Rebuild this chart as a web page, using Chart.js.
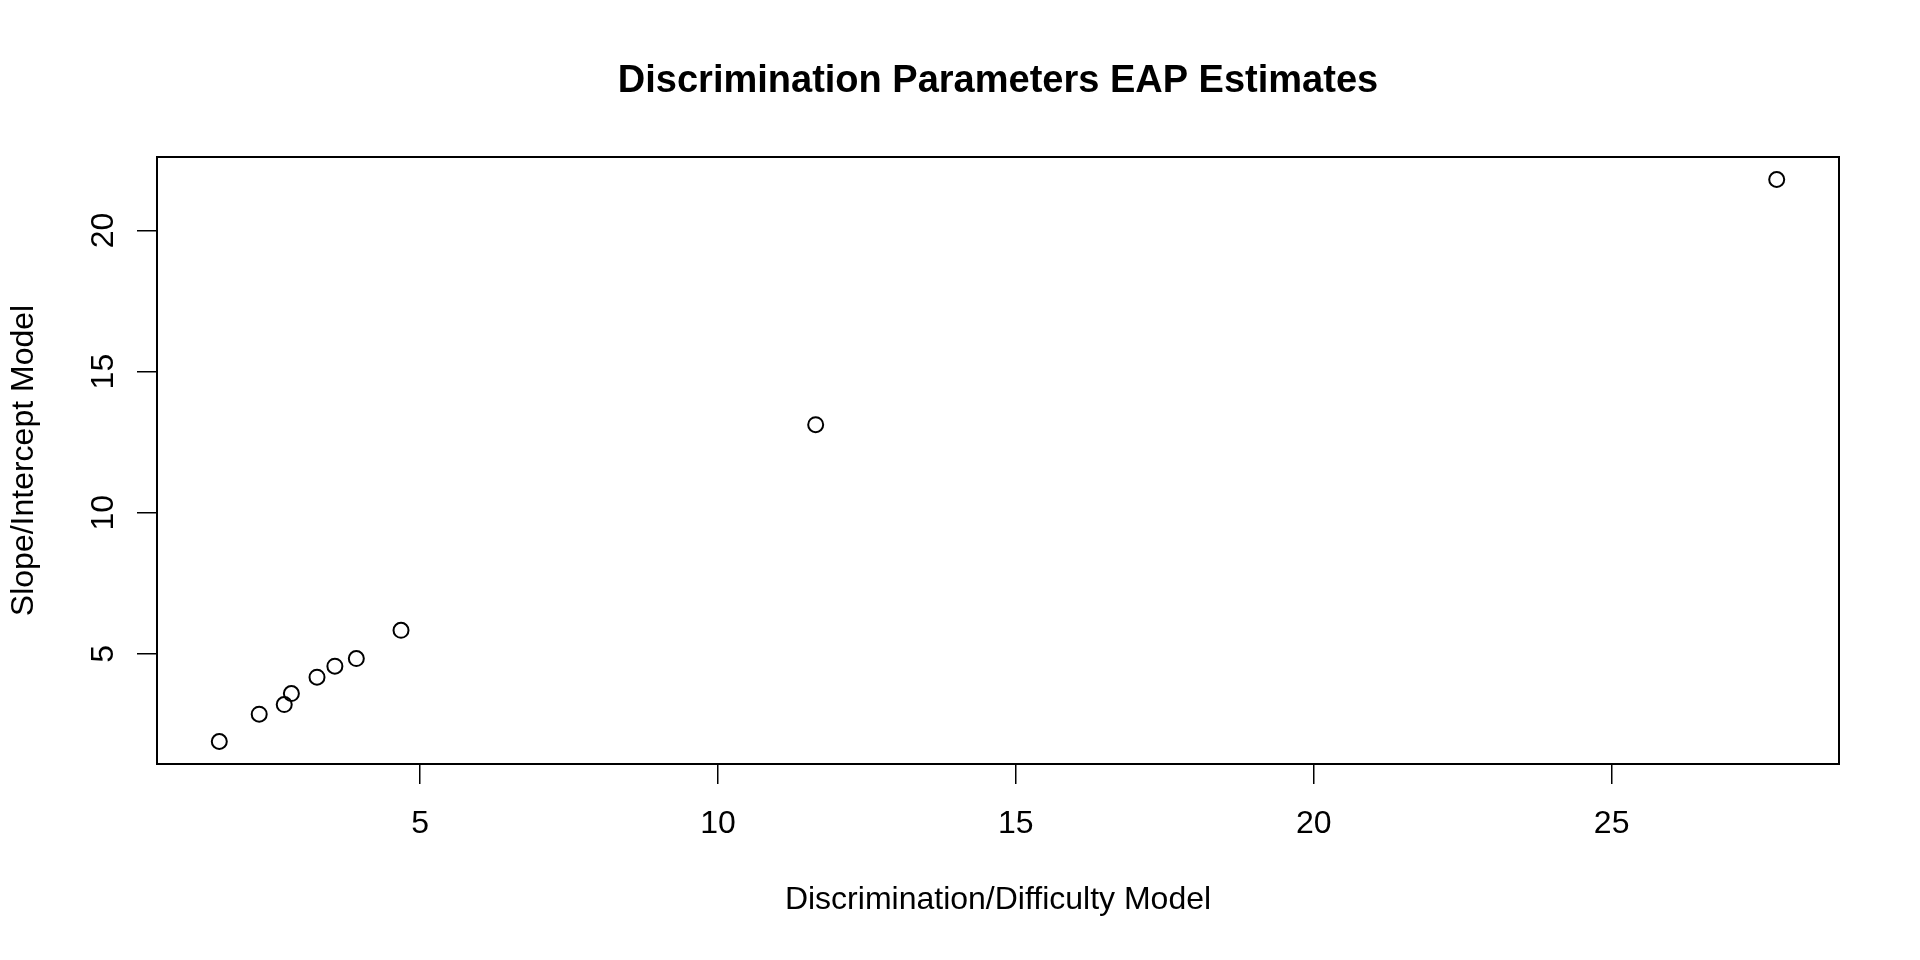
<!DOCTYPE html>
<html>
<head>
<meta charset="utf-8">
<title>Discrimination Parameters EAP Estimates</title>
<script src="https://cdn.jsdelivr.net/npm/chart.js@4/dist/chart.umd.min.js"></script>
<style>
  html, body { margin: 0; padding: 0; background: #fff; }
  #wrap { width: 1920px; height: 960px; }
</style>
</head>
<body>
<div id="wrap"><canvas id="grafico" width="1920" height="960"></canvas></div>
<script>
// valores
const discDiff = [1.63, 2.30, 2.72, 2.84, 3.27, 3.57, 3.93, 4.68, 11.64, 27.77];
const slopeInt = [1.89, 2.86, 3.20, 3.59, 4.17, 4.56, 4.83, 5.83, 13.12, 21.81];
const xTicks = [5, 10, 15, 20, 25];
const yTicks = [5, 10, 15, 20];

const fonte = 'Liberation Sans, Arial, Helvetica, sans-serif';

// limites como no R (4% de folga)
function limites(v) {
  const lo = Math.min(...v), hi = Math.max(...v);
  const pad = (hi - lo) * 0.04;
  return { min: lo - pad, max: hi + pad };
}
const xLim = limites(discDiff);
const yLim = limites(slopeInt);

// caixa, título e rótulos do eixo y (rotacionados)
const extras = {
  id: 'extras',
  afterDraw(chart) {
    const { ctx, chartArea: a } = chart;
    ctx.save();
    ctx.strokeStyle = '#000';
    ctx.lineWidth = 2;
    ctx.strokeRect(a.left, a.top, a.right - a.left, a.bottom - a.top);

    ctx.fillStyle = '#000';
    ctx.textAlign = 'center';
    ctx.textBaseline = 'middle';
    ctx.font = 'bold 38px ' + fonte;
    ctx.fillText('Discrimination Parameters EAP Estimates', (a.left + a.right) / 2, 82);

    const y = chart.scales.y;
    ctx.font = '32px ' + fonte;
    yTicks.forEach(v => {
      ctx.save();
      ctx.translate(104, y.getPixelForValue(v));
      ctx.rotate(-Math.PI / 2);
      ctx.fillText(String(v), 0, 0);
      ctx.restore();
    });
    ctx.restore();
  }
};

const ctx = document.getElementById('grafico').getContext('2d');
new Chart(ctx, {
  type: 'scatter',
  data: {
    datasets: [{
      label: 'EAP',
      data: discDiff.map((x, i) => ({ x: x, y: slopeInt[i] })),
      pointRadius: 7.5,
      pointHoverRadius: 7.5,
      borderWidth: 2,
      borderColor: '#000',
      backgroundColor: 'rgba(0,0,0,0)'
    }]
  },
  options: {
    responsive: false,
    animation: false,
    devicePixelRatio: 1,
    layout: { padding: { top: 157, right: 81, left: 0, bottom: 0 } },
    plugins: {
      legend: { display: false },
      tooltip: { enabled: false },
      title: { display: false }
    },
    scales: {
      x: {
        type: 'linear',
        min: xLim.min,
        max: xLim.max,
        afterBuildTicks: s => { s.ticks = xTicks.map(v => ({ value: v })); },
        afterFit: s => { s.height = 196; },
        border: { display: false },
        grid: { drawOnChartArea: false, drawTicks: true, tickLength: 20, color: '#000', lineWidth: 1.5 },
        ticks: { color: '#000', font: { family: fonte, size: 32 }, padding: 21, autoSkip: false, maxRotation: 0 },
        title: {
          display: true,
          text: 'Discrimination/Difficulty Model',
          color: '#000',
          font: { family: fonte, size: 32 },
          padding: { top: 0, bottom: 41 }
        }
      },
      y: {
        type: 'linear',
        min: yLim.min,
        max: yLim.max,
        afterBuildTicks: s => { s.ticks = yTicks.map(v => ({ value: v })); },
        afterFit: s => { s.width = 157; },
        border: { display: false },
        grid: { drawOnChartArea: false, drawTicks: true, tickLength: 20, color: '#000', lineWidth: 1.5 },
        ticks: { display: false },
        title: {
          display: true,
          text: 'Slope/Intercept Model',
          color: '#000',
          font: { family: fonte, size: 32 },
          padding: { top: 5, bottom: 0 }
        }
      }
    }
  },
  plugins: [extras]
});
</script>
</body>
</html>
